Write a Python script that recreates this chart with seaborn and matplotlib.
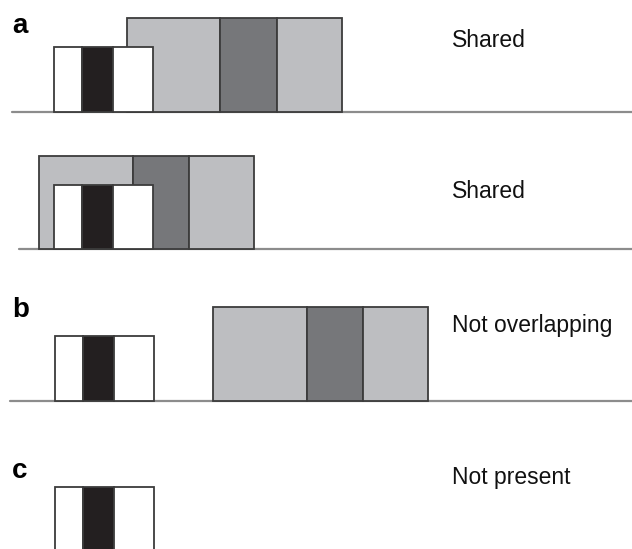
import numpy as np
import pandas as pd
import matplotlib
matplotlib.use("Agg")
import matplotlib.pyplot as plt
import seaborn as sns

# Schematic rows (units = pixels of the reference, y grows downward)
row_names = ["a1", "a2", "b", "c"]
baseline_y = [112, 249, 401, 560]
line_start = [12, 19, 10, None]

# small box: white / black / white
small_left = [54, 54, 55, 55]
small_band_left = [82, 82, 83, 83]
small_band_right = [113, 113, 114, 114]
small_right = [153, 153, 154, 154]
small_top = [47, 185, 336, 487]

# large box: light grey / dark grey / light grey
large_left = [127, 39, 213, None]
large_band_left = [220, 133, 307, None]
large_band_right = [277, 189, 363, None]
large_right = [342, 254, 428, None]
large_top = [18, 156, 307, None]

captions = ["Shared", "Shared", "Not overlapping", "Not present"]
caption_baseline = [47, 198, 332, 484]

panel_labels = ["a", "", "b", "c"]
label_baseline = [33, None, 317, 478]

sns.set_theme(style="white")
plt.rcParams["font.family"] = ["Liberation Sans", "DejaVu Sans"]

light = "#bdbec1"
dark = "#76777a"
black = "#231f20"
edge = "#3c3c3c"

fig = plt.figure(figsize=(6.32, 5.49), dpi=100)
ax = fig.add_axes([0, 0, 1, 1])
ax.set_xlim(0, 632)
ax.set_ylim(549, 0)
ax.axis("off")


def draw_box(left, bl, br, right, top, base, fill, band):
    h = base - top
    ax.bar([left, bl, br], [h, h, h], width=[bl - left, br - bl, right - br],
           bottom=top, align="edge", color=[fill, band, fill],
           edgecolor=edge, linewidth=1.3)


for i in range(len(row_names)):
    if line_start[i] is not None:
        ax.plot([line_start[i], 632], [baseline_y[i], baseline_y[i]],
                color="#8c8c8c", linewidth=1.6, zorder=1)
    if large_left[i] is not None:
        draw_box(large_left[i], large_band_left[i], large_band_right[i],
                 large_right[i], large_top[i], baseline_y[i], light, dark)
    draw_box(small_left[i], small_band_left[i], small_band_right[i],
             small_right[i], small_top[i], baseline_y[i], "white", black)
    ax.text(452, caption_baseline[i], captions[i], ha="left", va="baseline",
            fontsize=16.5, color="#111111")
    if panel_labels[i]:
        ax.text(12, label_baseline[i], panel_labels[i], ha="left",
                va="baseline", fontsize=20, fontweight="bold", color="black")

fig.savefig("out.png", dpi=100)
